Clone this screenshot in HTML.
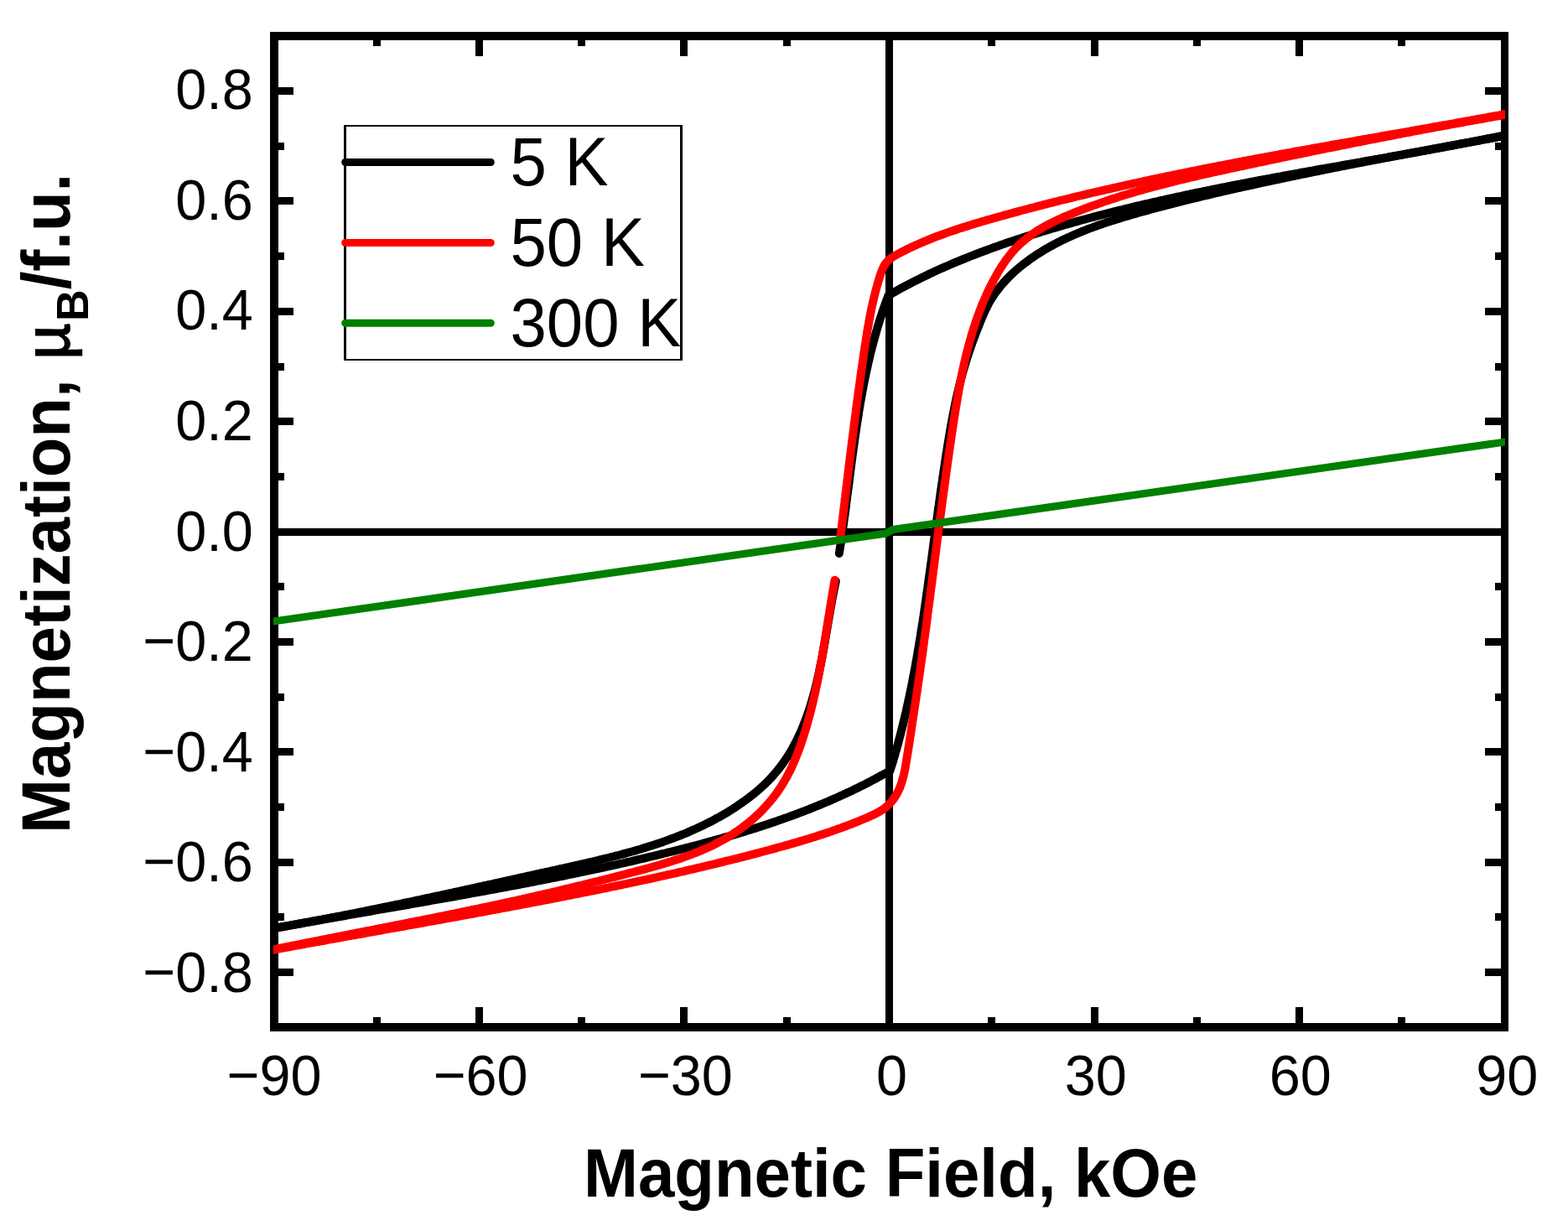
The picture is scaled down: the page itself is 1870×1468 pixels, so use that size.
<!DOCTYPE html>
<html><head><meta charset="utf-8"><style>html,body{margin:0;padding:0;background:#fff;overflow:hidden}svg{display:block}</style></head><body>
<svg width="1870" height="1468" viewBox="0 0 1870 1468">
<defs><clipPath id="pc"><rect x="326" y="38" width="1469" height="1192"/></clipPath></defs>
<rect width="1870" height="1468" fill="#fff"/>
<g fill="#000" shape-rendering="crispEdges"><rect x="332" y="630" width="1458" height="9"/><rect x="1056" y="48" width="9" height="1172"/><rect x="322" y="38" width="10" height="1192"/><rect x="1790" y="38" width="9" height="1192"/><rect x="322" y="38" width="1477" height="10"/><rect x="322" y="1220" width="1477" height="10"/><rect x="332" y="1155" width="18" height="9"/><rect x="1771" y="1155" width="19" height="9"/><rect x="332" y="1089" width="7" height="9"/><rect x="1783" y="1089" width="7" height="9"/><rect x="332" y="1024" width="18" height="9"/><rect x="1771" y="1024" width="19" height="9"/><rect x="332" y="958" width="7" height="9"/><rect x="1783" y="958" width="7" height="9"/><rect x="332" y="892" width="18" height="9"/><rect x="1771" y="892" width="19" height="9"/><rect x="332" y="827" width="7" height="9"/><rect x="1783" y="827" width="7" height="9"/><rect x="332" y="761" width="18" height="9"/><rect x="1771" y="761" width="19" height="9"/><rect x="332" y="695" width="7" height="9"/><rect x="1783" y="695" width="7" height="9"/><rect x="332" y="630" width="18" height="9"/><rect x="1771" y="630" width="19" height="9"/><rect x="332" y="564" width="7" height="9"/><rect x="1783" y="564" width="7" height="9"/><rect x="332" y="498" width="18" height="9"/><rect x="1771" y="498" width="19" height="9"/><rect x="332" y="433" width="7" height="9"/><rect x="1783" y="433" width="7" height="9"/><rect x="332" y="367" width="18" height="9"/><rect x="1771" y="367" width="19" height="9"/><rect x="332" y="301" width="7" height="9"/><rect x="1783" y="301" width="7" height="9"/><rect x="332" y="235" width="18" height="9"/><rect x="1771" y="235" width="19" height="9"/><rect x="332" y="170" width="7" height="9"/><rect x="1783" y="170" width="7" height="9"/><rect x="332" y="104" width="18" height="9"/><rect x="1771" y="104" width="19" height="9"/><rect x="445" y="48" width="9" height="7"/><rect x="445" y="1213" width="9" height="7"/><rect x="567" y="48" width="9" height="19"/><rect x="567" y="1201" width="9" height="19"/><rect x="689" y="48" width="9" height="7"/><rect x="689" y="1213" width="9" height="7"/><rect x="811" y="48" width="9" height="19"/><rect x="811" y="1201" width="9" height="19"/><rect x="934" y="48" width="9" height="7"/><rect x="934" y="1213" width="9" height="7"/><rect x="1056" y="48" width="9" height="19"/><rect x="1056" y="1201" width="9" height="19"/><rect x="1178" y="48" width="9" height="7"/><rect x="1178" y="1213" width="9" height="7"/><rect x="1301" y="48" width="9" height="19"/><rect x="1301" y="1201" width="9" height="19"/><rect x="1423" y="48" width="9" height="7"/><rect x="1423" y="1213" width="9" height="7"/><rect x="1545" y="48" width="9" height="19"/><rect x="1545" y="1201" width="9" height="19"/><rect x="1667" y="48" width="9" height="7"/><rect x="1667" y="1213" width="9" height="7"/></g>
<g font-family="Liberation Sans, Arial, sans-serif" font-size="66.6" fill="#000"><text transform="translate(301.8,1182.79) scale(1,1.04)" text-anchor="end">−0.8</text><text transform="translate(301.8,1051.43) scale(1,1.04)" text-anchor="end">−0.6</text><text transform="translate(301.8,920.07) scale(1,1.04)" text-anchor="end">−0.4</text><text transform="translate(301.8,787.61) scale(1,1.04)" text-anchor="end">−0.2</text><text transform="translate(301.8,657.35) scale(1,1.04)" text-anchor="end">0.0</text><text transform="translate(301.8,524.89) scale(1,1.04)" text-anchor="end">0.2</text><text transform="translate(301.8,392.53) scale(1,1.04)" text-anchor="end">0.4</text><text transform="translate(301.8,262.07) scale(1,1.04)" text-anchor="end">0.6</text><text transform="translate(301.8,129.81) scale(1,1.04)" text-anchor="end">0.8</text><text transform="translate(327.10,1306.2) scale(1,1.04)" text-anchor="middle">−90</text><text transform="translate(573.13,1306.2) scale(1,1.04)" text-anchor="middle">−60</text><text transform="translate(817.39,1306.2) scale(1,1.04)" text-anchor="middle">−30</text><text transform="translate(1063.45,1306.2) scale(1,1.04)" text-anchor="middle">0</text><text transform="translate(1306.81,1306.2) scale(1,1.04)" text-anchor="middle">30</text><text transform="translate(1550.77,1306.2) scale(1,1.04)" text-anchor="middle">60</text><text transform="translate(1797.20,1306.2) scale(1,1.04)" text-anchor="middle">90</text></g>
<text transform="translate(696,1426.8) scale(1,1.04)" font-family="Liberation Sans, Arial, sans-serif" font-weight="bold" font-size="78" fill="#000">Magnetic Field, kOe</text>
<text transform="translate(83,994) rotate(-90) scale(1,1.04)" font-family="Liberation Sans, Arial, sans-serif" font-weight="bold" font-size="78" fill="#000">Magnetization, <tspan font-family="Noto Sans CJK JP, sans-serif" font-weight="500" font-size="72">μ</tspan><tspan font-size="52" dx="1.5" dy="21">B</tspan><tspan dy="-21">/f.u.</tspan></text>
<g clip-path="url(#pc)">
<path d="M1797.0,160.8 L1794.1,161.4 L1791.1,162.0 L1788.2,162.6 L1785.2,163.2 L1782.3,163.8 L1779.3,164.4 L1776.4,165.0 L1773.5,165.5 L1770.5,166.1 L1767.6,166.7 L1764.6,167.3 L1761.7,167.9 L1758.7,168.4 L1755.8,169.0 L1752.8,169.6 L1749.9,170.1 L1746.9,170.7 L1743.9,171.3 L1741.0,171.8 L1738.0,172.4 L1735.1,173.0 L1732.1,173.5 L1729.2,174.1 L1726.2,174.6 L1723.3,175.2 L1720.3,175.7 L1717.3,176.3 L1714.4,176.8 L1711.4,177.4 L1708.4,177.9 L1705.5,178.5 L1702.5,179.0 L1699.6,179.6 L1696.6,180.1 L1693.6,180.6 L1690.7,181.2 L1687.7,181.7 L1684.7,182.2 L1681.8,182.8 L1678.8,183.3 L1675.8,183.8 L1672.9,184.4 L1669.9,184.9 L1666.9,185.4 L1664.0,186.0 L1661.0,186.5 L1658.0,187.0 L1655.1,187.6 L1652.1,188.1 L1649.1,188.6 L1646.2,189.1 L1643.2,189.7 L1640.2,190.2 L1637.2,190.7 L1634.3,191.3 L1631.3,191.8 L1628.3,192.3 L1625.4,192.8 L1622.4,193.4 L1619.4,193.9 L1616.4,194.4 L1613.5,194.9 L1610.5,195.5 L1607.5,196.0 L1604.6,196.5 L1601.6,197.0 L1598.6,197.6 L1595.6,198.1 L1592.7,198.6 L1589.7,199.1 L1586.7,199.7 L1583.8,200.2 L1580.8,200.7 L1577.8,201.3 L1574.8,201.8 L1571.9,202.3 L1568.9,202.8 L1565.9,203.4 L1562.9,203.9 L1560.0,204.4 L1557.0,205.0 L1554.0,205.5 L1551.1,206.0 L1548.1,206.6 L1545.1,207.1 L1542.1,207.7 L1539.2,208.2 L1536.2,208.7 L1533.2,209.3 L1530.3,209.8 L1527.3,210.4 L1524.3,210.9 L1521.4,211.5 L1518.4,212.0 L1515.4,212.6 L1512.5,213.1 L1509.5,213.7 L1506.5,214.2 L1503.6,214.8 L1500.6,215.3 L1497.6,215.9 L1494.7,216.5 L1491.7,217.0 L1488.7,217.6 L1485.8,218.2 L1482.8,218.7 L1479.8,219.3 L1476.9,219.9 L1473.9,220.5 L1470.9,221.0 L1468.0,221.6 L1465.0,222.2 L1462.1,222.8 L1459.1,223.4 L1456.1,224.0 L1453.2,224.6 L1450.2,225.2 L1447.3,225.7 L1444.3,226.3 L1441.4,227.0 L1438.4,227.6 L1435.4,228.2 L1432.5,228.8 L1429.5,229.4 L1426.6,230.0 L1423.6,230.6 L1420.7,231.2 L1417.7,231.9 L1414.8,232.5 L1411.8,233.1 L1408.9,233.8 L1405.9,234.4 L1403.0,235.0 L1400.0,235.7 L1397.1,236.3 L1394.2,237.0 L1391.2,237.6 L1388.3,238.3 L1385.3,238.9 L1382.4,239.6 L1379.5,240.3 L1376.5,240.9 L1373.6,241.6 L1370.6,242.3 L1367.7,243.0 L1364.8,243.6 L1361.8,244.3 L1358.9,245.0 L1356.0,245.7 L1353.0,246.4 L1350.1,247.1 L1347.2,247.8 L1344.3,248.5 L1341.3,249.2 L1338.4,250.0 L1335.5,250.7 L1332.6,251.4 L1329.6,252.1 L1326.7,252.9 L1323.8,253.6 L1320.9,254.4 L1318.0,255.1 L1315.1,255.9 L1312.1,256.6 L1309.2,257.4 L1306.3,258.1 L1303.4,258.9 L1300.5,259.7 L1297.6,260.5 L1294.7,261.3 L1291.8,262.0 L1288.9,262.8 L1286.0,263.6 L1283.1,264.4 L1280.2,265.3 L1277.3,266.1 L1274.4,266.9 L1271.5,267.7 L1268.6,268.5 L1265.7,269.4 L1262.8,270.2 L1259.9,271.1 L1257.0,271.9 L1254.1,272.8 L1251.3,273.6 L1248.4,274.5 L1245.5,275.4 L1242.6,276.2 L1239.7,277.1 L1236.9,278.0 L1234.0,278.9 L1231.1,279.8 L1228.2,280.7 L1225.4,281.6 L1222.5,282.5 L1219.6,283.5 L1216.8,284.4 L1213.9,285.3 L1211.0,286.3 L1208.2,287.2 L1205.3,288.2 L1202.5,289.1 L1199.6,290.1 L1196.8,291.1 L1193.9,292.1 L1191.1,293.1 L1188.3,294.1 L1185.4,295.1 L1182.6,296.1 L1179.8,297.1 L1176.9,298.2 L1174.1,299.2 L1171.3,300.3 L1168.5,301.3 L1165.7,302.4 L1162.9,303.5 L1160.0,304.6 L1157.2,305.7 L1154.4,306.8 L1151.7,307.9 L1148.9,309.0 L1146.1,310.1 L1143.3,311.3 L1140.5,312.4 L1137.7,313.6 L1135.0,314.8 L1132.2,316.0 L1129.5,317.2 L1126.7,318.4 L1123.9,319.6 L1121.2,320.8 L1118.5,322.0 L1115.7,323.3 L1113.0,324.6 L1110.3,325.8 L1107.5,327.1 L1104.8,328.4 L1102.1,329.7 L1099.4,331.0 L1096.7,332.4 L1094.0,333.7 L1091.3,335.1 L1088.6,336.4 L1086.0,337.8 L1083.3,339.2 L1080.6,340.6 L1078.0,342.0 L1075.3,343.4 L1072.6,344.9 L1070.0,346.3 L1067.4,347.8 L1064.7,349.3 L1062.1,350.8 L1059.5,352.3 L1058.4,355.2 L1057.3,358.0 L1056.3,360.9 L1055.3,363.8 L1054.2,366.6 L1053.2,369.5 L1052.3,372.4 L1051.3,375.3 L1050.4,378.2 L1049.4,381.1 L1048.5,384.0 L1047.6,386.9 L1046.7,389.8 L1045.9,392.7 L1045.0,395.6 L1044.2,398.6 L1043.4,401.5 L1042.6,404.4 L1041.8,407.4 L1041.0,410.3 L1040.2,413.2 L1039.5,416.2 L1038.7,419.1 L1038.0,422.1 L1037.3,425.0 L1036.6,428.0 L1035.9,431.0 L1035.2,433.9 L1034.6,436.9 L1033.9,439.9 L1033.3,442.8 L1032.6,445.8 L1032.0,448.8 L1031.4,451.8 L1030.8,454.8 L1030.2,457.7 L1029.6,460.7 L1029.1,463.7 L1028.5,466.7 L1028.0,469.7 L1027.4,472.7 L1026.9,475.7 L1026.3,478.7 L1025.8,481.7 L1025.3,484.7 L1024.8,487.7 L1024.3,490.7 L1023.8,493.8 L1023.4,496.8 L1022.9,499.8 L1022.4,502.8 L1022.0,505.8 L1021.5,508.8 L1021.0,511.9 L1020.6,514.9 L1020.2,517.9 L1019.7,520.9 L1019.3,524.0 L1018.9,527.0 L1018.5,530.0 L1018.0,533.0 L1017.6,536.1 L1017.2,539.1 L1016.8,542.1 L1016.4,545.1 L1016.0,548.2 L1015.6,551.2 L1015.2,554.2 L1014.8,557.3 L1014.4,560.3 L1014.0,563.3 L1013.6,566.4 L1013.2,569.4 L1012.9,572.4 L1012.5,575.5 L1012.1,578.5 L1011.7,581.5 L1011.3,584.6 L1010.9,587.6 L1010.5,590.6 L1010.1,593.6 L1009.7,596.7 L1009.3,599.7 L1009.0,602.7 L1008.6,605.8 L1008.2,608.8 L1007.8,611.8 L1007.4,614.8 L1006.9,617.8 L1006.5,620.9 L1006.1,623.9 L1005.7,626.9 L1005.3,629.9 L1004.9,632.9 L1004.4,636.0 L1004.0,639.0 L1003.6,642.0 L1003.1,645.0 L1002.7,648.0 L1002.2,651.0 L1001.7,654.0 L1001.3,657.0 L1000.8,660.0" fill="none" stroke="#000" stroke-width="10.0" stroke-linecap="round" stroke-linejoin="round"/>
<path d="M996.8,693.0 L996.2,695.9 L995.6,698.7 L995.0,701.6 L994.4,704.5 L993.8,707.4 L993.3,710.4 L992.7,713.3 L992.2,716.2 L991.7,719.2 L991.1,722.1 L990.6,725.1 L990.1,728.0 L989.6,731.0 L989.1,733.9 L988.6,736.9 L988.0,739.9 L987.5,742.9 L987.0,745.9 L986.5,748.9 L986.0,751.9 L985.5,754.9 L985.0,757.9 L984.5,760.9 L984.0,763.9 L983.5,766.9 L982.9,769.9 L982.4,772.9 L981.9,775.9 L981.3,778.9 L980.8,781.9 L980.2,784.9 L979.6,787.9 L979.0,790.8 L978.4,793.8 L977.8,796.8 L977.2,799.8 L976.6,802.8 L975.9,805.8 L975.2,808.7 L974.6,811.7 L973.9,814.7 L973.1,817.6 L972.4,820.6 L971.7,823.5 L970.9,826.4 L970.1,829.4 L969.3,832.3 L968.4,835.2 L967.6,838.1 L966.7,841.0 L965.8,843.9 L964.9,846.7 L963.9,849.6 L962.9,852.4 L961.9,855.3 L960.9,858.1 L959.8,860.9 L958.7,863.7 L957.6,866.5 L956.4,869.3 L955.2,872.1 L954.0,874.8 L952.7,877.5 L951.4,880.3 L950.1,883.0 L948.7,885.6 L947.3,888.3 L945.9,890.9 L944.4,893.6 L942.9,896.2 L941.4,898.7 L939.8,901.3 L938.2,903.8 L936.5,906.3 L934.8,908.8 L933.1,911.2 L931.3,913.6 L929.5,916.0 L927.6,918.3 L925.7,920.6 L923.8,922.9 L921.8,925.1 L919.8,927.4 L917.7,929.5 L915.6,931.7 L913.5,933.8 L911.3,935.9 L909.1,937.9 L906.9,939.9 L904.6,941.9 L902.4,943.9 L900.0,945.8 L897.7,947.7 L895.3,949.5 L893.0,951.4 L890.5,953.2 L888.1,955.0 L885.7,956.7 L883.2,958.4 L880.7,960.1 L878.2,961.8 L875.7,963.5 L873.2,965.1 L870.6,966.7 L868.1,968.3 L865.5,969.8 L862.9,971.3 L860.3,972.8 L857.7,974.3 L855.1,975.7 L852.5,977.2 L849.9,978.6 L847.2,980.0 L844.6,981.3 L841.9,982.6 L839.2,984.0 L836.5,985.3 L833.8,986.5 L831.1,987.8 L828.4,989.0 L825.6,990.2 L822.9,991.4 L820.2,992.6 L817.4,993.8 L814.6,994.9 L811.9,996.0 L809.1,997.1 L806.3,998.2 L803.5,999.3 L800.7,1000.3 L797.8,1001.4 L795.0,1002.4 L792.2,1003.4 L789.3,1004.4 L786.5,1005.4 L783.7,1006.3 L780.8,1007.3 L777.9,1008.2 L775.1,1009.1 L772.2,1010.0 L769.3,1010.9 L766.4,1011.8 L763.5,1012.7 L760.6,1013.5 L757.7,1014.4 L754.8,1015.2 L751.9,1016.0 L749.0,1016.8 L746.0,1017.6 L743.1,1018.4 L740.2,1019.2 L737.2,1020.0 L734.3,1020.7 L731.3,1021.5 L728.4,1022.2 L725.5,1023.0 L722.5,1023.7 L719.5,1024.4 L716.6,1025.1 L713.6,1025.9 L710.7,1026.6 L707.7,1027.3 L704.7,1028.0 L701.8,1028.6 L698.8,1029.3 L695.8,1030.0 L692.9,1030.7 L689.9,1031.4 L686.9,1032.0 L684.0,1032.7 L681.0,1033.3 L678.0,1034.0 L675.1,1034.7 L672.1,1035.3 L669.1,1036.0 L666.2,1036.6 L663.2,1037.3 L660.2,1037.9 L657.3,1038.6 L654.3,1039.3 L651.3,1039.9 L648.4,1040.6 L645.4,1041.2 L642.5,1041.9 L639.5,1042.5 L636.5,1043.2 L633.6,1043.8 L630.6,1044.5 L627.7,1045.1 L624.7,1045.8 L621.8,1046.4 L618.8,1047.1 L615.9,1047.8 L613.0,1048.4 L610.0,1049.1 L607.1,1049.7 L604.1,1050.4 L601.2,1051.0 L598.2,1051.7 L595.3,1052.3 L592.4,1053.0 L589.4,1053.6 L586.5,1054.3 L583.5,1054.9 L580.6,1055.6 L577.7,1056.2 L574.7,1056.9 L571.8,1057.5 L568.9,1058.1 L565.9,1058.8 L563.0,1059.4 L560.1,1060.1 L557.1,1060.7 L554.2,1061.4 L551.3,1062.0 L548.3,1062.7 L545.4,1063.3 L542.5,1063.9 L539.6,1064.6 L536.6,1065.2 L533.7,1065.8 L530.8,1066.5 L527.8,1067.1 L524.9,1067.8 L522.0,1068.4 L519.0,1069.0 L516.1,1069.6 L513.2,1070.3 L510.2,1070.9 L507.3,1071.5 L504.4,1072.2 L501.5,1072.8 L498.5,1073.4 L495.6,1074.0 L492.7,1074.7 L489.7,1075.3 L486.8,1075.9 L483.9,1076.5 L480.9,1077.1 L478.0,1077.8 L475.1,1078.4 L472.1,1079.0 L469.2,1079.6 L466.3,1080.2 L463.3,1080.8 L460.4,1081.4 L457.4,1082.0 L454.5,1082.6 L451.6,1083.2 L448.6,1083.8 L445.7,1084.4 L442.7,1085.0 L439.8,1085.6 L436.9,1086.2 L433.9,1086.8 L431.0,1087.4 L428.0,1088.0 L425.1,1088.6 L422.1,1089.2 L419.2,1089.7 L416.2,1090.3 L413.3,1090.9 L410.3,1091.5 L407.4,1092.1 L404.4,1092.6 L401.5,1093.2 L398.5,1093.8 L395.5,1094.3 L392.6,1094.9 L389.6,1095.5 L386.6,1096.0 L383.7,1096.6 L380.7,1097.1 L377.7,1097.7 L374.8,1098.3 L371.8,1098.8 L368.8,1099.4 L365.9,1099.9 L362.9,1100.4 L359.9,1101.0 L356.9,1101.5 L353.9,1102.1 L350.9,1102.6 L348.0,1103.1 L345.0,1103.7 L342.0,1104.2 L339.0,1104.7 L336.0,1105.2 L333.0,1105.8 L330.0,1106.3 L327.0,1106.8 L324.0,1107.3" fill="none" stroke="#000" stroke-width="10.0" stroke-linecap="round" stroke-linejoin="round"/>
<path d="M324.0,1107.7 L327.0,1107.2 L329.9,1106.6 L332.9,1106.1 L335.9,1105.5 L338.8,1105.0 L341.8,1104.4 L344.8,1103.9 L347.7,1103.3 L350.7,1102.8 L353.7,1102.3 L356.6,1101.7 L359.6,1101.2 L362.6,1100.6 L365.5,1100.1 L368.5,1099.6 L371.5,1099.0 L374.4,1098.5 L377.4,1098.0 L380.4,1097.5 L383.4,1096.9 L386.3,1096.4 L389.3,1095.9 L392.3,1095.3 L395.2,1094.8 L398.2,1094.3 L401.2,1093.8 L404.2,1093.2 L407.1,1092.7 L410.1,1092.2 L413.1,1091.7 L416.1,1091.1 L419.0,1090.6 L422.0,1090.1 L425.0,1089.6 L428.0,1089.1 L431.0,1088.5 L433.9,1088.0 L436.9,1087.5 L439.9,1087.0 L442.9,1086.5 L445.8,1085.9 L448.8,1085.4 L451.8,1084.9 L454.8,1084.4 L457.8,1083.9 L460.7,1083.3 L463.7,1082.8 L466.7,1082.3 L469.7,1081.8 L472.7,1081.3 L475.6,1080.7 L478.6,1080.2 L481.6,1079.7 L484.6,1079.2 L487.6,1078.7 L490.5,1078.1 L493.5,1077.6 L496.5,1077.1 L499.5,1076.6 L502.5,1076.0 L505.4,1075.5 L508.4,1075.0 L511.4,1074.5 L514.4,1073.9 L517.4,1073.4 L520.4,1072.9 L523.3,1072.4 L526.3,1071.8 L529.3,1071.3 L532.3,1070.8 L535.3,1070.3 L538.2,1069.7 L541.2,1069.2 L544.2,1068.7 L547.2,1068.1 L550.2,1067.6 L553.1,1067.1 L556.1,1066.5 L559.1,1066.0 L562.1,1065.4 L565.1,1064.9 L568.0,1064.4 L571.0,1063.8 L574.0,1063.3 L577.0,1062.7 L579.9,1062.2 L582.9,1061.6 L585.9,1061.1 L588.9,1060.5 L591.9,1060.0 L594.8,1059.4 L597.8,1058.9 L600.8,1058.3 L603.8,1057.8 L606.7,1057.2 L609.7,1056.6 L612.7,1056.1 L615.7,1055.5 L618.6,1055.0 L621.6,1054.4 L624.6,1053.8 L627.6,1053.2 L630.5,1052.7 L633.5,1052.1 L636.5,1051.5 L639.4,1050.9 L642.4,1050.4 L645.4,1049.8 L648.4,1049.2 L651.3,1048.6 L654.3,1048.0 L657.3,1047.4 L660.2,1046.8 L663.2,1046.3 L666.2,1045.7 L669.1,1045.1 L672.1,1044.5 L675.1,1043.9 L678.0,1043.2 L681.0,1042.6 L684.0,1042.0 L686.9,1041.4 L689.9,1040.8 L692.9,1040.2 L695.8,1039.6 L698.8,1038.9 L701.7,1038.3 L704.7,1037.7 L707.7,1037.1 L710.6,1036.4 L713.6,1035.8 L716.5,1035.1 L719.5,1034.5 L722.4,1033.9 L725.4,1033.2 L728.4,1032.6 L731.3,1031.9 L734.3,1031.3 L737.2,1030.6 L740.2,1029.9 L743.1,1029.3 L746.1,1028.6 L749.0,1027.9 L752.0,1027.3 L754.9,1026.6 L757.9,1025.9 L760.8,1025.2 L763.8,1024.5 L766.7,1023.8 L769.6,1023.1 L772.6,1022.4 L775.5,1021.7 L778.5,1021.0 L781.4,1020.3 L784.3,1019.6 L787.3,1018.9 L790.2,1018.2 L793.2,1017.5 L796.1,1016.7 L799.0,1016.0 L802.0,1015.3 L804.9,1014.6 L807.8,1013.8 L810.8,1013.1 L813.7,1012.3 L816.6,1011.6 L819.5,1010.8 L822.5,1010.1 L825.4,1009.3 L828.3,1008.5 L831.2,1007.8 L834.2,1007.0 L837.1,1006.2 L840.0,1005.4 L842.9,1004.6 L845.8,1003.8 L848.7,1003.0 L851.7,1002.2 L854.6,1001.4 L857.5,1000.6 L860.4,999.8 L863.3,998.9 L866.2,998.1 L869.1,997.3 L872.0,996.4 L874.9,995.6 L877.8,994.7 L880.7,993.9 L883.6,993.0 L886.5,992.1 L889.3,991.2 L892.2,990.3 L895.1,989.4 L898.0,988.5 L900.9,987.6 L903.7,986.7 L906.6,985.8 L909.5,984.9 L912.3,983.9 L915.2,983.0 L918.1,982.0 L920.9,981.0 L923.8,980.1 L926.6,979.1 L929.5,978.1 L932.3,977.1 L935.2,976.1 L938.0,975.1 L940.8,974.1 L943.7,973.0 L946.5,972.0 L949.3,971.0 L952.1,969.9 L954.9,968.8 L957.8,967.8 L960.6,966.7 L963.4,965.6 L966.2,964.5 L969.0,963.4 L971.8,962.2 L974.6,961.1 L977.3,960.0 L980.1,958.8 L982.9,957.7 L985.7,956.5 L988.5,955.3 L991.2,954.1 L994.0,952.9 L996.7,951.7 L999.5,950.5 L1002.2,949.2 L1005.0,948.0 L1007.7,946.7 L1010.5,945.4 L1013.2,944.2 L1015.9,942.9 L1018.6,941.6 L1021.4,940.2 L1024.1,938.9 L1026.8,937.6 L1029.5,936.2 L1032.2,934.9 L1034.9,933.5 L1037.6,932.1 L1040.2,930.7 L1042.9,929.3 L1045.6,927.8 L1048.3,926.4 L1050.9,924.9 L1053.6,923.5 L1056.2,922.0 L1058.9,920.5 L1061.5,919.0 L1062.4,916.1 L1063.3,913.3 L1064.2,910.4 L1065.1,907.5 L1065.9,904.6 L1066.8,901.7 L1067.6,898.8 L1068.4,895.9 L1069.3,893.0 L1070.1,890.2 L1070.9,887.3 L1071.6,884.3 L1072.4,881.4 L1073.2,878.5 L1074.0,875.6 L1074.7,872.7 L1075.4,869.8 L1076.2,866.9 L1076.9,864.0 L1077.6,861.0 L1078.3,858.1 L1079.0,855.2 L1079.7,852.2 L1080.4,849.3 L1081.0,846.4 L1081.7,843.4 L1082.4,840.5 L1083.0,837.6 L1083.6,834.6 L1084.3,831.7 L1084.9,828.7 L1085.5,825.8 L1086.1,822.8 L1086.7,819.9 L1087.3,816.9 L1087.9,814.0 L1088.5,811.0 L1089.0,808.1 L1089.6,805.1 L1090.2,802.2 L1090.7,799.2 L1091.3,796.2 L1091.8,793.3 L1092.3,790.3 L1092.9,787.3 L1093.4,784.4 L1093.9,781.4 L1094.4,778.4 L1094.9,775.4 L1095.4,772.5 L1095.9,769.5 L1096.4,766.5 L1096.9,763.6 L1097.4,760.6 L1097.9,757.6 L1098.3,754.6 L1098.8,751.6 L1099.3,748.7 L1099.7,745.7 L1100.2,742.7 L1100.7,739.7 L1101.1,736.7 L1101.6,733.7 L1102.0,730.8 L1102.4,727.8 L1102.9,724.8 L1103.3,721.8 L1103.7,718.8 L1104.2,715.8 L1104.6,712.9 L1105.0,709.9 L1105.4,706.9 L1105.9,703.9 L1106.3,700.9 L1106.7,697.9 L1107.1,694.9 L1107.5,692.0 L1107.9,689.0 L1108.3,686.0 L1108.8,683.0 L1109.2,680.0 L1109.6,677.0 L1110.0,674.0 L1110.4,671.1 L1110.8,668.1 L1111.2,665.1 L1111.6,662.1 L1112.0,659.1 L1112.4,656.1 L1112.8,653.2 L1113.2,650.2 L1113.6,647.2 L1114.0,644.2 L1114.4,641.2 L1114.8,638.2 L1115.2,635.3 L1115.6,632.3 L1116.0,629.3 L1116.4,626.3 L1116.8,623.3 L1117.2,620.4 L1117.6,617.4 L1118.0,614.4 L1118.4,611.4 L1118.8,608.4 L1119.2,605.4 L1119.7,602.5 L1120.1,599.5 L1120.5,596.5 L1120.9,593.5 L1121.3,590.6 L1121.7,587.6 L1122.2,584.6 L1122.6,581.6 L1123.0,578.6 L1123.4,575.7 L1123.9,572.7 L1124.3,569.7 L1124.7,566.7 L1125.2,563.7 L1125.6,560.8 L1126.1,557.8 L1126.5,554.8 L1127.0,551.8 L1127.4,548.9 L1127.9,545.9 L1128.3,542.9 L1128.8,539.9 L1129.3,537.0 L1129.7,534.0 L1130.2,531.0 L1130.7,528.0 L1131.2,525.0 L1131.7,522.1 L1132.2,519.1 L1132.7,516.1 L1133.2,513.2 L1133.7,510.2 L1134.2,507.2 L1134.8,504.3 L1135.3,501.3 L1135.9,498.3 L1136.4,495.4 L1137.0,492.4 L1137.6,489.5 L1138.2,486.5 L1138.8,483.6 L1139.4,480.6 L1140.0,477.7 L1140.7,474.7 L1141.3,471.8 L1142.0,468.8 L1142.7,465.9 L1143.4,463.0 L1144.1,460.1 L1144.8,457.1 L1145.5,454.2 L1146.3,451.3 L1147.1,448.4 L1147.8,445.5 L1148.6,442.6 L1149.5,439.7 L1150.3,436.8 L1151.2,433.9 L1152.0,431.1 L1152.9,428.2 L1153.8,425.3 L1154.8,422.5 L1155.7,419.6 L1156.7,416.8 L1157.7,413.9 L1158.7,411.1 L1159.7,408.2 L1160.7,405.4 L1161.8,402.6 L1162.8,399.8 L1163.9,397.0 L1165.0,394.2 L1166.1,391.4 L1167.2,388.6 L1168.3,385.8 L1169.4,383.0 L1170.6,380.2 L1171.7,377.5 L1172.9,374.7 L1174.1,372.0 L1175.4,369.3 L1176.7,366.6 L1178.0,364.0 L1179.4,361.3 L1180.9,358.8 L1182.5,356.2 L1184.1,353.7 L1185.7,351.3 L1187.4,348.8 L1189.2,346.4 L1191.0,344.1 L1192.9,341.7 L1194.8,339.4 L1196.7,337.2 L1198.8,335.0 L1200.8,332.8 L1202.9,330.6 L1205.0,328.5 L1207.2,326.5 L1209.4,324.4 L1211.6,322.4 L1213.9,320.4 L1216.2,318.5 L1218.6,316.6 L1220.9,314.7 L1223.3,312.9 L1225.8,311.1 L1228.2,309.3 L1230.7,307.5 L1233.2,305.8 L1235.7,304.1 L1238.3,302.5 L1240.9,300.9 L1243.4,299.3 L1246.0,297.7 L1248.7,296.2 L1251.3,294.7 L1253.9,293.2 L1256.6,291.8 L1259.2,290.4 L1261.9,289.0 L1264.6,287.6 L1267.3,286.3 L1270.0,285.0 L1272.7,283.7 L1275.5,282.5 L1278.2,281.2 L1280.9,280.0 L1283.7,278.8 L1286.5,277.7 L1289.2,276.5 L1292.0,275.4 L1294.8,274.3 L1297.6,273.2 L1300.4,272.1 L1303.2,271.1 L1306.1,270.1 L1308.9,269.0 L1311.7,268.0 L1314.6,267.1 L1317.4,266.1 L1320.3,265.1 L1323.1,264.2 L1326.0,263.3 L1328.9,262.4 L1331.7,261.5 L1334.6,260.6 L1337.5,259.7 L1340.4,258.8 L1343.3,258.0 L1346.2,257.1 L1349.1,256.3 L1352.0,255.5 L1354.9,254.6 L1357.8,253.8 L1360.7,253.0 L1363.6,252.2 L1366.5,251.4 L1369.4,250.6 L1372.3,249.8 L1375.2,249.0 L1378.1,248.2 L1381.0,247.4 L1383.9,246.7 L1386.9,245.9 L1389.8,245.1 L1392.7,244.4 L1395.6,243.6 L1398.5,242.9 L1401.4,242.1 L1404.4,241.4 L1407.3,240.6 L1410.2,239.9 L1413.1,239.2 L1416.1,238.5 L1419.0,237.7 L1421.9,237.0 L1424.8,236.3 L1427.8,235.6 L1430.7,234.9 L1433.6,234.2 L1436.6,233.5 L1439.5,232.8 L1442.4,232.1 L1445.4,231.4 L1448.3,230.7 L1451.2,230.0 L1454.2,229.4 L1457.1,228.7 L1460.0,228.0 L1463.0,227.3 L1465.9,226.7 L1468.9,226.0 L1471.8,225.3 L1474.7,224.7 L1477.7,224.0 L1480.6,223.4 L1483.6,222.7 L1486.5,222.1 L1489.5,221.4 L1492.4,220.8 L1495.3,220.1 L1498.3,219.5 L1501.2,218.8 L1504.2,218.2 L1507.1,217.5 L1510.1,216.9 L1513.0,216.3 L1516.0,215.6 L1518.9,215.0 L1521.8,214.4 L1524.8,213.8 L1527.7,213.1 L1530.7,212.5 L1533.6,211.9 L1536.6,211.3 L1539.5,210.7 L1542.5,210.1 L1545.4,209.4 L1548.4,208.8 L1551.3,208.2 L1554.3,207.6 L1557.2,207.0 L1560.2,206.4 L1563.1,205.8 L1566.1,205.2 L1569.0,204.6 L1572.0,204.0 L1575.0,203.4 L1577.9,202.8 L1580.9,202.2 L1583.8,201.6 L1586.8,201.0 L1589.7,200.4 L1592.7,199.9 L1595.6,199.3 L1598.6,198.7 L1601.5,198.1 L1604.5,197.5 L1607.5,196.9 L1610.4,196.4 L1613.4,195.8 L1616.3,195.2 L1619.3,194.6 L1622.2,194.1 L1625.2,193.5 L1628.2,192.9 L1631.1,192.3 L1634.1,191.8 L1637.0,191.2 L1640.0,190.6 L1642.9,190.1 L1645.9,189.5 L1648.9,188.9 L1651.8,188.4 L1654.8,187.8 L1657.7,187.3 L1660.7,186.7 L1663.7,186.1 L1666.6,185.6 L1669.6,185.0 L1672.5,184.5 L1675.5,183.9 L1678.5,183.4 L1681.4,182.8 L1684.4,182.2 L1687.4,181.7 L1690.3,181.1 L1693.3,180.6 L1696.2,180.0 L1699.2,179.5 L1702.2,178.9 L1705.1,178.4 L1708.1,177.8 L1711.1,177.3 L1714.0,176.7 L1717.0,176.2 L1719.9,175.6 L1722.9,175.1 L1725.9,174.5 L1728.8,174.0 L1731.8,173.5 L1734.8,172.9 L1737.7,172.4 L1740.7,171.8 L1743.6,171.3 L1746.6,170.7 L1749.6,170.2 L1752.5,169.6 L1755.5,169.1 L1758.5,168.6 L1761.4,168.0 L1764.4,167.5 L1767.4,166.9 L1770.3,166.4 L1773.3,165.8 L1776.3,165.3 L1779.2,164.8 L1782.2,164.2 L1785.1,163.7 L1788.1,163.1 L1791.1,162.6 L1794.0,162.0 L1797.0,161.5" fill="none" stroke="#000" stroke-width="10.0" stroke-linecap="round" stroke-linejoin="round"/>
<path d="M1797.0,135.7 L1794.0,136.3 L1791.1,136.8 L1788.1,137.4 L1785.1,137.9 L1782.2,138.4 L1779.2,139.0 L1776.2,139.5 L1773.3,140.1 L1770.3,140.6 L1767.3,141.2 L1764.3,141.7 L1761.4,142.2 L1758.4,142.8 L1755.4,143.3 L1752.5,143.9 L1749.5,144.4 L1746.5,144.9 L1743.6,145.5 L1740.6,146.0 L1737.6,146.5 L1734.6,147.1 L1731.7,147.6 L1728.7,148.1 L1725.7,148.7 L1722.8,149.2 L1719.8,149.7 L1716.8,150.2 L1713.9,150.8 L1710.9,151.3 L1707.9,151.8 L1704.9,152.4 L1702.0,152.9 L1699.0,153.4 L1696.0,153.9 L1693.1,154.5 L1690.1,155.0 L1687.1,155.5 L1684.1,156.0 L1681.2,156.6 L1678.2,157.1 L1675.2,157.6 L1672.3,158.1 L1669.3,158.7 L1666.3,159.2 L1663.3,159.7 L1660.4,160.2 L1657.4,160.7 L1654.4,161.3 L1651.5,161.8 L1648.5,162.3 L1645.5,162.8 L1642.6,163.4 L1639.6,163.9 L1636.6,164.4 L1633.6,164.9 L1630.7,165.5 L1627.7,166.0 L1624.7,166.5 L1621.8,167.0 L1618.8,167.5 L1615.8,168.1 L1612.9,168.6 L1609.9,169.1 L1606.9,169.6 L1603.9,170.2 L1601.0,170.7 L1598.0,171.2 L1595.0,171.8 L1592.1,172.3 L1589.1,172.8 L1586.1,173.3 L1583.2,173.9 L1580.2,174.4 L1577.2,174.9 L1574.3,175.5 L1571.3,176.0 L1568.3,176.5 L1565.3,177.0 L1562.4,177.6 L1559.4,178.1 L1556.4,178.7 L1553.5,179.2 L1550.5,179.7 L1547.5,180.3 L1544.6,180.8 L1541.6,181.3 L1538.6,181.9 L1535.7,182.4 L1532.7,183.0 L1529.7,183.5 L1526.8,184.0 L1523.8,184.6 L1520.9,185.1 L1517.9,185.7 L1514.9,186.2 L1512.0,186.8 L1509.0,187.3 L1506.0,187.9 L1503.1,188.4 L1500.1,189.0 L1497.1,189.5 L1494.2,190.1 L1491.2,190.6 L1488.3,191.2 L1485.3,191.8 L1482.3,192.3 L1479.4,192.9 L1476.4,193.5 L1473.4,194.0 L1470.5,194.6 L1467.5,195.2 L1464.6,195.7 L1461.6,196.3 L1458.6,196.9 L1455.7,197.4 L1452.7,198.0 L1449.8,198.6 L1446.8,199.2 L1443.9,199.8 L1440.9,200.3 L1437.9,200.9 L1435.0,201.5 L1432.0,202.1 L1429.1,202.7 L1426.1,203.3 L1423.2,203.9 L1420.2,204.5 L1417.3,205.1 L1414.3,205.7 L1411.3,206.3 L1408.4,206.9 L1405.4,207.5 L1402.5,208.1 L1399.5,208.7 L1396.6,209.3 L1393.6,209.9 L1390.7,210.5 L1387.7,211.1 L1384.8,211.7 L1381.8,212.4 L1378.9,213.0 L1375.9,213.6 L1373.0,214.2 L1370.0,214.9 L1367.1,215.5 L1364.1,216.1 L1361.2,216.8 L1358.3,217.4 L1355.3,218.1 L1352.4,218.7 L1349.4,219.3 L1346.5,220.0 L1343.5,220.6 L1340.6,221.3 L1337.6,222.0 L1334.7,222.6 L1331.8,223.3 L1328.8,223.9 L1325.9,224.6 L1322.9,225.3 L1320.0,225.9 L1317.1,226.6 L1314.1,227.3 L1311.2,228.0 L1308.3,228.7 L1305.3,229.3 L1302.4,230.0 L1299.4,230.7 L1296.5,231.4 L1293.6,232.1 L1290.6,232.8 L1287.7,233.5 L1284.8,234.2 L1281.8,234.9 L1278.9,235.6 L1276.0,236.4 L1273.0,237.1 L1270.1,237.8 L1267.2,238.5 L1264.3,239.2 L1261.3,240.0 L1258.4,240.7 L1255.5,241.4 L1252.6,242.2 L1249.6,242.9 L1246.7,243.7 L1243.8,244.4 L1240.9,245.2 L1237.9,245.9 L1235.0,246.7 L1232.1,247.5 L1229.2,248.2 L1226.2,249.0 L1223.3,249.8 L1220.4,250.5 L1217.5,251.3 L1214.6,252.1 L1211.7,252.9 L1208.7,253.7 L1205.8,254.5 L1202.9,255.3 L1200.0,256.1 L1197.1,256.9 L1194.2,257.7 L1191.3,258.5 L1188.3,259.3 L1185.4,260.1 L1182.5,261.0 L1179.6,261.8 L1176.7,262.6 L1173.8,263.5 L1170.9,264.3 L1168.0,265.2 L1165.1,266.0 L1162.2,266.9 L1159.3,267.8 L1156.4,268.7 L1153.5,269.6 L1150.7,270.5 L1147.8,271.4 L1144.9,272.3 L1142.0,273.2 L1139.2,274.2 L1136.3,275.2 L1133.4,276.1 L1130.6,277.1 L1127.8,278.1 L1124.9,279.2 L1122.1,280.2 L1119.3,281.2 L1116.4,282.3 L1113.6,283.4 L1110.8,284.5 L1108.0,285.6 L1105.2,286.8 L1102.5,287.9 L1099.7,289.1 L1096.9,290.3 L1094.2,291.5 L1091.4,292.7 L1088.7,294.0 L1086.0,295.3 L1083.3,296.6 L1080.5,297.9 L1077.9,299.3 L1075.2,300.6 L1072.5,302.0 L1069.8,303.5 L1067.2,304.9 L1064.6,306.5 L1062.2,308.2 L1059.9,310.0 L1057.9,312.1 L1056.0,314.4 L1054.5,316.9 L1053.1,319.6 L1051.8,322.5 L1050.7,325.4 L1049.7,328.4 L1048.8,331.3 L1047.9,334.2 L1047.0,337.2 L1046.2,340.1 L1045.4,343.0 L1044.6,345.9 L1043.8,348.8 L1043.1,351.7 L1042.4,354.6 L1041.7,357.5 L1041.0,360.5 L1040.4,363.4 L1039.7,366.3 L1039.1,369.3 L1038.5,372.2 L1037.9,375.1 L1037.4,378.1 L1036.8,381.0 L1036.3,384.0 L1035.8,387.0 L1035.2,389.9 L1034.7,392.9 L1034.2,395.8 L1033.8,398.8 L1033.3,401.8 L1032.8,404.7 L1032.4,407.7 L1031.9,410.7 L1031.4,413.7 L1031.0,416.6 L1030.6,419.6 L1030.1,422.6 L1029.7,425.6 L1029.3,428.5 L1028.8,431.5 L1028.4,434.5 L1028.0,437.5 L1027.6,440.5 L1027.1,443.5 L1026.7,446.4 L1026.3,449.4 L1025.9,452.4 L1025.5,455.4 L1025.1,458.4 L1024.7,461.4 L1024.2,464.4 L1023.8,467.3 L1023.4,470.3 L1023.0,473.3 L1022.6,476.3 L1022.2,479.3 L1021.8,482.3 L1021.4,485.3 L1021.0,488.3 L1020.7,491.3 L1020.3,494.3 L1019.9,497.3 L1019.5,500.2 L1019.1,503.2 L1018.7,506.2 L1018.3,509.2 L1017.9,512.2 L1017.6,515.2 L1017.2,518.2 L1016.8,521.2 L1016.4,524.2 L1016.0,527.2 L1015.7,530.2 L1015.3,533.2 L1014.9,536.2 L1014.5,539.2 L1014.2,542.2 L1013.8,545.2 L1013.4,548.2 L1013.1,551.2 L1012.7,554.2 L1012.3,557.2 L1012.0,560.2 L1011.6,563.2 L1011.2,566.2 L1010.9,569.2 L1010.5,572.2 L1010.1,575.1 L1009.8,578.1 L1009.4,581.1 L1009.1,584.1 L1008.7,587.1 L1008.3,590.1 L1008.0,593.1 L1007.6,596.1 L1007.3,599.1 L1006.9,602.1 L1006.6,605.1 L1006.2,608.1 L1005.8,611.1 L1005.5,614.1 L1005.1,617.1 L1004.8,620.1 L1004.4,623.1 L1004.1,626.0 L1003.7,629.0 L1003.4,632.0 L1003.0,635.0 L1002.7,638.0 L1002.3,641.0" fill="none" stroke="#f00" stroke-width="10.0" stroke-linecap="round" stroke-linejoin="round"/>
<path d="M995.5,691.8 L995.0,694.7 L994.5,697.7 L994.0,700.6 L993.5,703.6 L993.0,706.5 L992.5,709.5 L992.0,712.4 L991.5,715.4 L991.1,718.4 L990.6,721.3 L990.1,724.3 L989.6,727.3 L989.2,730.2 L988.7,733.2 L988.2,736.2 L987.7,739.1 L987.3,742.1 L986.8,745.1 L986.3,748.0 L985.8,751.0 L985.4,754.0 L984.9,757.0 L984.4,759.9 L983.9,762.9 L983.4,765.9 L982.9,768.9 L982.4,771.8 L981.9,774.8 L981.4,777.8 L980.9,780.8 L980.4,783.7 L979.9,786.7 L979.3,789.7 L978.8,792.6 L978.2,795.6 L977.7,798.6 L977.1,801.5 L976.5,804.5 L976.0,807.5 L975.4,810.4 L974.8,813.4 L974.2,816.4 L973.5,819.3 L972.9,822.3 L972.3,825.2 L971.6,828.2 L970.9,831.1 L970.3,834.1 L969.6,837.0 L968.9,839.9 L968.1,842.9 L967.4,845.8 L966.7,848.7 L965.9,851.7 L965.1,854.6 L964.3,857.5 L963.5,860.4 L962.7,863.3 L961.9,866.3 L961.0,869.2 L960.1,872.1 L959.2,875.0 L958.3,877.9 L957.4,880.7 L956.4,883.6 L955.5,886.5 L954.5,889.4 L953.5,892.2 L952.4,895.1 L951.3,897.9 L950.2,900.7 L949.1,903.5 L948.0,906.3 L946.8,909.1 L945.6,911.8 L944.3,914.6 L943.0,917.3 L941.7,920.0 L940.4,922.6 L939.0,925.3 L937.5,927.9 L936.1,930.5 L934.5,933.1 L933.0,935.6 L931.4,938.1 L929.8,940.6 L928.1,943.1 L926.4,945.5 L924.6,947.9 L922.8,950.3 L921.0,952.6 L919.1,954.9 L917.2,957.2 L915.2,959.4 L913.3,961.6 L911.2,963.8 L909.2,966.0 L907.1,968.1 L905.0,970.2 L902.8,972.2 L900.6,974.2 L898.4,976.2 L896.2,978.2 L893.9,980.1 L891.6,982.0 L889.3,983.8 L886.9,985.6 L884.5,987.4 L882.1,989.2 L879.7,990.9 L877.2,992.5 L874.7,994.2 L872.2,995.8 L869.7,997.3 L867.1,998.9 L864.5,1000.4 L861.9,1001.8 L859.3,1003.2 L856.7,1004.6 L854.0,1006.0 L851.3,1007.4 L848.6,1008.7 L845.9,1010.0 L843.2,1011.2 L840.4,1012.4 L837.7,1013.6 L834.9,1014.8 L832.1,1016.0 L829.3,1017.1 L826.5,1018.2 L823.6,1019.3 L820.8,1020.3 L817.9,1021.4 L815.1,1022.4 L812.2,1023.4 L809.3,1024.4 L806.4,1025.3 L803.5,1026.3 L800.6,1027.2 L797.7,1028.1 L794.7,1029.0 L791.8,1029.9 L788.9,1030.8 L785.9,1031.7 L783.0,1032.5 L780.0,1033.3 L777.1,1034.2 L774.1,1035.0 L771.2,1035.8 L768.2,1036.6 L765.2,1037.4 L762.3,1038.2 L759.3,1038.9 L756.4,1039.7 L753.4,1040.5 L750.5,1041.2 L747.5,1042.0 L744.6,1042.8 L741.6,1043.5 L738.7,1044.3 L735.8,1045.0 L732.8,1045.8 L729.9,1046.5 L727.0,1047.3 L724.0,1048.0 L721.1,1048.8 L718.2,1049.5 L715.3,1050.2 L712.4,1051.0 L709.5,1051.7 L706.6,1052.4 L703.6,1053.1 L700.7,1053.8 L697.8,1054.6 L694.9,1055.3 L692.0,1056.0 L689.1,1056.7 L686.2,1057.4 L683.3,1058.1 L680.4,1058.8 L677.5,1059.5 L674.6,1060.2 L671.7,1060.9 L668.8,1061.6 L665.9,1062.3 L663.0,1063.0 L660.1,1063.7 L657.2,1064.3 L654.3,1065.0 L651.4,1065.7 L648.5,1066.4 L645.5,1067.1 L642.6,1067.7 L639.7,1068.4 L636.8,1069.1 L633.9,1069.7 L631.0,1070.4 L628.1,1071.0 L625.1,1071.7 L622.2,1072.4 L619.3,1073.0 L616.4,1073.7 L613.4,1074.3 L610.5,1074.9 L607.6,1075.6 L604.6,1076.2 L601.7,1076.9 L598.8,1077.5 L595.8,1078.1 L592.9,1078.8 L590.0,1079.4 L587.0,1080.0 L584.1,1080.7 L581.1,1081.3 L578.2,1081.9 L575.2,1082.5 L572.3,1083.2 L569.4,1083.8 L566.4,1084.4 L563.5,1085.0 L560.5,1085.6 L557.6,1086.2 L554.6,1086.9 L551.7,1087.5 L548.7,1088.1 L545.7,1088.7 L542.8,1089.3 L539.8,1089.9 L536.9,1090.5 L533.9,1091.1 L531.0,1091.7 L528.0,1092.3 L525.0,1092.9 L522.1,1093.5 L519.1,1094.1 L516.2,1094.7 L513.2,1095.3 L510.2,1095.9 L507.3,1096.5 L504.3,1097.1 L501.4,1097.7 L498.4,1098.3 L495.4,1098.8 L492.5,1099.4 L489.5,1100.0 L486.5,1100.6 L483.6,1101.2 L480.6,1101.8 L477.6,1102.4 L474.7,1103.0 L471.7,1103.5 L468.7,1104.1 L465.8,1104.7 L462.8,1105.3 L459.8,1105.9 L456.9,1106.5 L453.9,1107.0 L451.0,1107.6 L448.0,1108.2 L445.0,1108.8 L442.1,1109.4 L439.1,1109.9 L436.1,1110.5 L433.2,1111.1 L430.2,1111.7 L427.2,1112.3 L424.3,1112.8 L421.3,1113.4 L418.4,1114.0 L415.4,1114.6 L412.4,1115.2 L409.5,1115.7 L406.5,1116.3 L403.6,1116.9 L400.6,1117.5 L397.6,1118.1 L394.7,1118.7 L391.7,1119.2 L388.8,1119.8 L385.8,1120.4 L382.9,1121.0 L379.9,1121.6 L377.0,1122.2 L374.0,1122.7 L371.1,1123.3 L368.1,1123.9 L365.2,1124.5 L362.2,1125.1 L359.3,1125.7 L356.3,1126.3 L353.4,1126.9 L350.4,1127.4 L347.5,1128.0 L344.5,1128.6 L341.6,1129.2 L338.7,1129.8 L335.7,1130.4 L332.8,1131.0 L329.9,1131.6 L326.9,1132.2 L324.0,1132.8" fill="none" stroke="#f00" stroke-width="10.0" stroke-linecap="round" stroke-linejoin="round"/>
<path d="M324.0,1133.0 L327.0,1132.5 L329.9,1131.9 L332.9,1131.4 L335.8,1130.8 L338.8,1130.3 L341.7,1129.7 L344.7,1129.2 L347.7,1128.7 L350.6,1128.1 L353.6,1127.6 L356.5,1127.0 L359.5,1126.5 L362.5,1126.0 L365.4,1125.4 L368.4,1124.9 L371.3,1124.4 L374.3,1123.8 L377.2,1123.3 L380.2,1122.8 L383.2,1122.2 L386.1,1121.7 L389.1,1121.2 L392.0,1120.6 L395.0,1120.1 L398.0,1119.6 L400.9,1119.0 L403.9,1118.5 L406.8,1118.0 L409.8,1117.4 L412.8,1116.9 L415.7,1116.4 L418.7,1115.8 L421.6,1115.3 L424.6,1114.8 L427.6,1114.2 L430.5,1113.7 L433.5,1113.2 L436.4,1112.7 L439.4,1112.1 L442.3,1111.6 L445.3,1111.1 L448.3,1110.5 L451.2,1110.0 L454.2,1109.5 L457.1,1108.9 L460.1,1108.4 L463.1,1107.9 L466.0,1107.4 L469.0,1106.8 L471.9,1106.3 L474.9,1105.8 L477.8,1105.2 L480.8,1104.7 L483.8,1104.2 L486.7,1103.6 L489.7,1103.1 L492.6,1102.6 L495.6,1102.0 L498.6,1101.5 L501.5,1101.0 L504.5,1100.5 L507.4,1099.9 L510.4,1099.4 L513.3,1098.9 L516.3,1098.3 L519.3,1097.8 L522.2,1097.2 L525.2,1096.7 L528.1,1096.2 L531.1,1095.6 L534.0,1095.1 L537.0,1094.6 L540.0,1094.0 L542.9,1093.5 L545.9,1093.0 L548.8,1092.4 L551.8,1091.9 L554.7,1091.3 L557.7,1090.8 L560.7,1090.2 L563.6,1089.7 L566.6,1089.2 L569.5,1088.6 L572.5,1088.1 L575.4,1087.5 L578.4,1087.0 L581.3,1086.4 L584.3,1085.9 L587.3,1085.3 L590.2,1084.8 L593.2,1084.2 L596.1,1083.7 L599.1,1083.1 L602.0,1082.6 L605.0,1082.0 L607.9,1081.5 L610.9,1080.9 L613.8,1080.4 L616.8,1079.8 L619.7,1079.3 L622.7,1078.7 L625.7,1078.1 L628.6,1077.6 L631.6,1077.0 L634.5,1076.4 L637.5,1075.9 L640.4,1075.3 L643.4,1074.7 L646.3,1074.2 L649.3,1073.6 L652.2,1073.0 L655.2,1072.5 L658.1,1071.9 L661.1,1071.3 L664.0,1070.7 L667.0,1070.2 L669.9,1069.6 L672.9,1069.0 L675.8,1068.4 L678.8,1067.9 L681.7,1067.3 L684.7,1066.7 L687.6,1066.1 L690.6,1065.5 L693.5,1064.9 L696.5,1064.3 L699.4,1063.7 L702.4,1063.2 L705.3,1062.6 L708.3,1062.0 L711.2,1061.4 L714.1,1060.8 L717.1,1060.2 L720.0,1059.6 L723.0,1059.0 L725.9,1058.4 L728.9,1057.7 L731.8,1057.1 L734.8,1056.5 L737.7,1055.9 L740.7,1055.3 L743.6,1054.7 L746.5,1054.1 L749.5,1053.4 L752.4,1052.8 L755.4,1052.2 L758.3,1051.6 L761.2,1050.9 L764.2,1050.3 L767.1,1049.7 L770.1,1049.1 L773.0,1048.4 L775.9,1047.8 L778.9,1047.1 L781.8,1046.5 L784.7,1045.8 L787.7,1045.2 L790.6,1044.5 L793.6,1043.9 L796.5,1043.2 L799.4,1042.6 L802.4,1041.9 L805.3,1041.3 L808.2,1040.6 L811.1,1039.9 L814.1,1039.3 L817.0,1038.6 L819.9,1037.9 L822.9,1037.2 L825.8,1036.6 L828.7,1035.9 L831.6,1035.2 L834.6,1034.5 L837.5,1033.8 L840.4,1033.1 L843.3,1032.4 L846.3,1031.7 L849.2,1031.0 L852.1,1030.3 L855.0,1029.6 L857.9,1028.9 L860.9,1028.2 L863.8,1027.4 L866.7,1026.7 L869.6,1026.0 L872.5,1025.3 L875.4,1024.5 L878.3,1023.8 L881.3,1023.1 L884.2,1022.3 L887.1,1021.6 L890.0,1020.8 L892.9,1020.1 L895.8,1019.3 L898.7,1018.6 L901.6,1017.8 L904.5,1017.1 L907.4,1016.3 L910.3,1015.5 L913.2,1014.7 L916.1,1014.0 L919.0,1013.2 L921.9,1012.4 L924.8,1011.6 L927.7,1010.8 L930.6,1010.0 L933.5,1009.2 L936.4,1008.4 L939.3,1007.6 L942.1,1006.8 L945.0,1005.9 L947.9,1005.1 L950.8,1004.3 L953.7,1003.4 L956.6,1002.6 L959.4,1001.7 L962.3,1000.8 L965.2,1000.0 L968.0,999.1 L970.9,998.2 L973.8,997.3 L976.6,996.3 L979.5,995.4 L982.4,994.5 L985.2,993.5 L988.1,992.6 L990.9,991.6 L993.8,990.6 L996.6,989.6 L999.5,988.6 L1002.3,987.6 L1005.1,986.5 L1008.0,985.5 L1010.8,984.4 L1013.6,983.3 L1016.5,982.2 L1019.3,981.1 L1022.1,980.0 L1024.9,978.8 L1027.7,977.7 L1030.5,976.5 L1033.3,975.3 L1036.1,974.1 L1038.9,972.8 L1041.7,971.6 L1044.4,970.2 L1047.1,968.8 L1049.7,967.3 L1052.2,965.7 L1054.6,964.1 L1056.9,962.2 L1059.1,960.3 L1061.2,958.2 L1063.1,956.1 L1065.0,953.8 L1066.7,951.4 L1068.2,949.0 L1069.7,946.5 L1071.0,943.9 L1072.2,941.3 L1073.4,938.6 L1074.4,935.8 L1075.4,933.0 L1076.2,930.1 L1077.0,927.2 L1077.8,924.3 L1078.4,921.3 L1079.1,918.3 L1079.7,915.3 L1080.2,912.2 L1080.7,909.2 L1081.2,906.1 L1081.7,903.0 L1082.2,900.0 L1082.7,896.9 L1083.2,893.9 L1083.6,890.8 L1084.1,887.8 L1084.6,884.8 L1085.0,881.8 L1085.5,878.7 L1086.0,875.7 L1086.4,872.7 L1086.9,869.7 L1087.3,866.7 L1087.8,863.8 L1088.2,860.8 L1088.7,857.8 L1089.1,854.8 L1089.6,851.9 L1090.0,848.9 L1090.5,845.9 L1090.9,843.0 L1091.4,840.0 L1091.8,837.0 L1092.3,834.1 L1092.7,831.1 L1093.1,828.2 L1093.6,825.2 L1094.0,822.3 L1094.4,819.3 L1094.9,816.4 L1095.3,813.4 L1095.7,810.5 L1096.1,807.6 L1096.6,804.6 L1097.0,801.7 L1097.4,798.7 L1097.8,795.8 L1098.2,792.8 L1098.6,789.9 L1099.1,786.9 L1099.5,784.0 L1099.9,781.0 L1100.3,778.0 L1100.7,775.1 L1101.1,772.1 L1101.5,769.2 L1101.9,766.2 L1102.3,763.2 L1102.7,760.3 L1103.1,757.3 L1103.5,754.4 L1103.9,751.4 L1104.3,748.4 L1104.7,745.5 L1105.1,742.5 L1105.5,739.5 L1105.9,736.6 L1106.2,733.6 L1106.6,730.6 L1107.0,727.7 L1107.4,724.7 L1107.8,721.7 L1108.2,718.7 L1108.6,715.8 L1109.0,712.8 L1109.4,709.8 L1109.7,706.8 L1110.1,703.9 L1110.5,700.9 L1110.9,697.9 L1111.3,694.9 L1111.7,692.0 L1112.0,689.0 L1112.4,686.0 L1112.8,683.0 L1113.2,680.0 L1113.6,677.1 L1114.0,674.1 L1114.3,671.1 L1114.7,668.1 L1115.1,665.1 L1115.5,662.1 L1115.9,659.2 L1116.3,656.2 L1116.6,653.2 L1117.0,650.2 L1117.4,647.2 L1117.8,644.2 L1118.2,641.2 L1118.6,638.3 L1119.0,635.3 L1119.3,632.3 L1119.7,629.3 L1120.1,626.3 L1120.5,623.3 L1120.9,620.3 L1121.3,617.3 L1121.7,614.4 L1122.1,611.4 L1122.5,608.4 L1122.9,605.4 L1123.3,602.4 L1123.7,599.4 L1124.1,596.4 L1124.5,593.4 L1124.9,590.5 L1125.3,587.5 L1125.7,584.5 L1126.1,581.5 L1126.5,578.5 L1126.9,575.5 L1127.3,572.5 L1127.7,569.5 L1128.1,566.5 L1128.5,563.5 L1128.9,560.6 L1129.4,557.6 L1129.8,554.6 L1130.2,551.6 L1130.6,548.6 L1131.0,545.6 L1131.5,542.6 L1131.9,539.6 L1132.3,536.7 L1132.8,533.7 L1133.2,530.7 L1133.6,527.7 L1134.1,524.7 L1134.5,521.7 L1134.9,518.7 L1135.4,515.7 L1135.8,512.8 L1136.3,509.8 L1136.7,506.8 L1137.2,503.8 L1137.6,500.8 L1138.1,497.8 L1138.6,494.9 L1139.0,491.9 L1139.5,488.9 L1140.0,485.9 L1140.5,482.9 L1141.0,480.0 L1141.5,477.0 L1142.0,474.0 L1142.5,471.1 L1143.0,468.1 L1143.5,465.1 L1144.1,462.2 L1144.6,459.2 L1145.2,456.3 L1145.8,453.3 L1146.3,450.4 L1146.9,447.4 L1147.5,444.5 L1148.2,441.5 L1148.8,438.6 L1149.4,435.7 L1150.1,432.7 L1150.8,429.8 L1151.4,426.9 L1152.1,424.0 L1152.8,421.1 L1153.6,418.2 L1154.3,415.3 L1155.1,412.4 L1155.9,409.5 L1156.7,406.6 L1157.5,403.8 L1158.3,400.9 L1159.2,398.0 L1160.0,395.2 L1160.9,392.3 L1161.8,389.5 L1162.8,386.6 L1163.7,383.8 L1164.7,381.0 L1165.7,378.2 L1166.7,375.4 L1167.7,372.6 L1168.8,369.8 L1169.9,367.0 L1171.0,364.2 L1172.1,361.4 L1173.3,358.7 L1174.5,355.9 L1175.7,353.2 L1176.9,350.4 L1178.2,347.7 L1179.5,345.0 L1180.8,342.3 L1182.2,339.6 L1183.5,336.9 L1185.0,334.2 L1186.4,331.5 L1187.9,328.9 L1189.4,326.2 L1190.9,323.6 L1192.5,321.0 L1194.1,318.5 L1195.7,316.0 L1197.4,313.5 L1199.1,311.0 L1200.9,308.6 L1202.7,306.2 L1204.6,303.8 L1206.5,301.5 L1208.4,299.3 L1210.4,297.1 L1212.5,294.9 L1214.6,292.8 L1216.7,290.8 L1218.9,288.8 L1221.2,286.9 L1223.4,285.0 L1225.8,283.2 L1228.2,281.4 L1230.6,279.6 L1233.0,278.0 L1235.5,276.3 L1238.0,274.7 L1240.6,273.2 L1243.2,271.6 L1245.8,270.1 L1248.4,268.7 L1251.1,267.3 L1253.8,265.9 L1256.5,264.6 L1259.2,263.2 L1262.0,261.9 L1264.7,260.7 L1267.5,259.4 L1270.3,258.2 L1273.1,257.0 L1275.9,255.8 L1278.8,254.7 L1281.6,253.5 L1284.4,252.4 L1287.3,251.3 L1290.1,250.2 L1292.9,249.1 L1295.8,248.1 L1298.6,247.0 L1301.5,245.9 L1304.3,244.9 L1307.2,243.9 L1310.0,242.9 L1312.9,241.9 L1315.7,240.9 L1318.6,239.9 L1321.5,239.0 L1324.3,238.0 L1327.2,237.1 L1330.1,236.2 L1332.9,235.2 L1335.8,234.3 L1338.7,233.4 L1341.5,232.5 L1344.4,231.7 L1347.3,230.8 L1350.2,229.9 L1353.1,229.1 L1355.9,228.3 L1358.8,227.4 L1361.7,226.6 L1364.6,225.8 L1367.5,225.0 L1370.4,224.2 L1373.3,223.4 L1376.2,222.6 L1379.1,221.8 L1382.0,221.1 L1384.9,220.3 L1387.8,219.6 L1390.7,218.8 L1393.6,218.1 L1396.5,217.4 L1399.4,216.6 L1402.3,215.9 L1405.2,215.2 L1408.1,214.5 L1411.0,213.8 L1413.9,213.1 L1416.8,212.4 L1419.8,211.7 L1422.7,211.0 L1425.6,210.4 L1428.5,209.7 L1431.4,209.0 L1434.3,208.3 L1437.3,207.7 L1440.2,207.0 L1443.1,206.4 L1446.0,205.7 L1449.0,205.1 L1451.9,204.4 L1454.8,203.8 L1457.7,203.1 L1460.7,202.5 L1463.6,201.9 L1466.5,201.2 L1469.5,200.6 L1472.4,200.0 L1475.3,199.3 L1478.3,198.7 L1481.2,198.1 L1484.1,197.5 L1487.1,196.8 L1490.0,196.2 L1492.9,195.6 L1495.9,195.0 L1498.8,194.3 L1501.7,193.7 L1504.7,193.1 L1507.6,192.5 L1510.6,191.9 L1513.5,191.2 L1516.4,190.6 L1519.4,190.0 L1522.3,189.4 L1525.3,188.8 L1528.2,188.2 L1531.1,187.5 L1534.1,186.9 L1537.0,186.3 L1540.0,185.7 L1542.9,185.1 L1545.9,184.5 L1548.8,183.9 L1551.8,183.3 L1554.7,182.7 L1557.7,182.1 L1560.6,181.4 L1563.6,180.8 L1566.5,180.2 L1569.5,179.6 L1572.4,179.0 L1575.4,178.4 L1578.3,177.8 L1581.3,177.2 L1584.2,176.6 L1587.2,176.0 L1590.1,175.5 L1593.1,174.9 L1596.0,174.3 L1599.0,173.7 L1601.9,173.1 L1604.9,172.5 L1607.8,171.9 L1610.8,171.3 L1613.7,170.7 L1616.7,170.1 L1619.6,169.5 L1622.6,169.0 L1625.6,168.4 L1628.5,167.8 L1631.5,167.2 L1634.4,166.6 L1637.4,166.1 L1640.3,165.5 L1643.3,164.9 L1646.2,164.3 L1649.2,163.8 L1652.2,163.2 L1655.1,162.6 L1658.1,162.0 L1661.0,161.5 L1664.0,160.9 L1666.9,160.3 L1669.9,159.8 L1672.9,159.2 L1675.8,158.6 L1678.8,158.1 L1681.7,157.5 L1684.7,156.9 L1687.6,156.4 L1690.6,155.8 L1693.6,155.3 L1696.5,154.7 L1699.5,154.1 L1702.4,153.6 L1705.4,153.0 L1708.3,152.5 L1711.3,151.9 L1714.3,151.4 L1717.2,150.8 L1720.2,150.3 L1723.1,149.7 L1726.1,149.2 L1729.0,148.7 L1732.0,148.1 L1735.0,147.6 L1737.9,147.0 L1740.9,146.5 L1743.8,146.0 L1746.8,145.4 L1749.7,144.9 L1752.7,144.3 L1755.6,143.8 L1758.6,143.3 L1761.6,142.8 L1764.5,142.2 L1767.5,141.7 L1770.4,141.2 L1773.4,140.6 L1776.3,140.1 L1779.3,139.6 L1782.2,139.1 L1785.2,138.6 L1788.1,138.0 L1791.1,137.5 L1794.0,137.0 L1797.0,136.5" fill="none" stroke="#f00" stroke-width="10.0" stroke-linecap="round" stroke-linejoin="round"/>
<polyline points="320.00,741.90 1056.00,636.20 1065.00,631.50 1800.00,526.30" fill="none" stroke="#008000" stroke-width="9.0" stroke-linejoin="round"/>
</g>
<g fill="#000" shape-rendering="crispEdges"><rect x="410" y="149" width="3" height="281"/><rect x="811" y="149" width="3" height="281"/><rect x="410" y="149" width="404" height="2"/><rect x="410" y="428" width="404" height="2"/></g>
<line x1="411.7" y1="193.5" x2="585.3" y2="193.5" stroke="#000" stroke-width="9" stroke-linecap="round"/>
<line x1="411.7" y1="289.5" x2="585.3" y2="289.5" stroke="#f00" stroke-width="9" stroke-linecap="round"/>
<line x1="411.7" y1="385.3" x2="585.3" y2="385.3" stroke="#008000" stroke-width="9" stroke-linecap="round"/>
<g font-family="Liberation Sans, Arial, sans-serif" font-size="78" fill="#000"><text transform="translate(608.5,221.0) scale(1,1.04)">5 K</text><text transform="translate(608.5,316.8) scale(1,1.04)">50 K</text><text transform="translate(608.5,412.5) scale(1,1.04)">300 K</text></g>
</svg>
</body></html>
